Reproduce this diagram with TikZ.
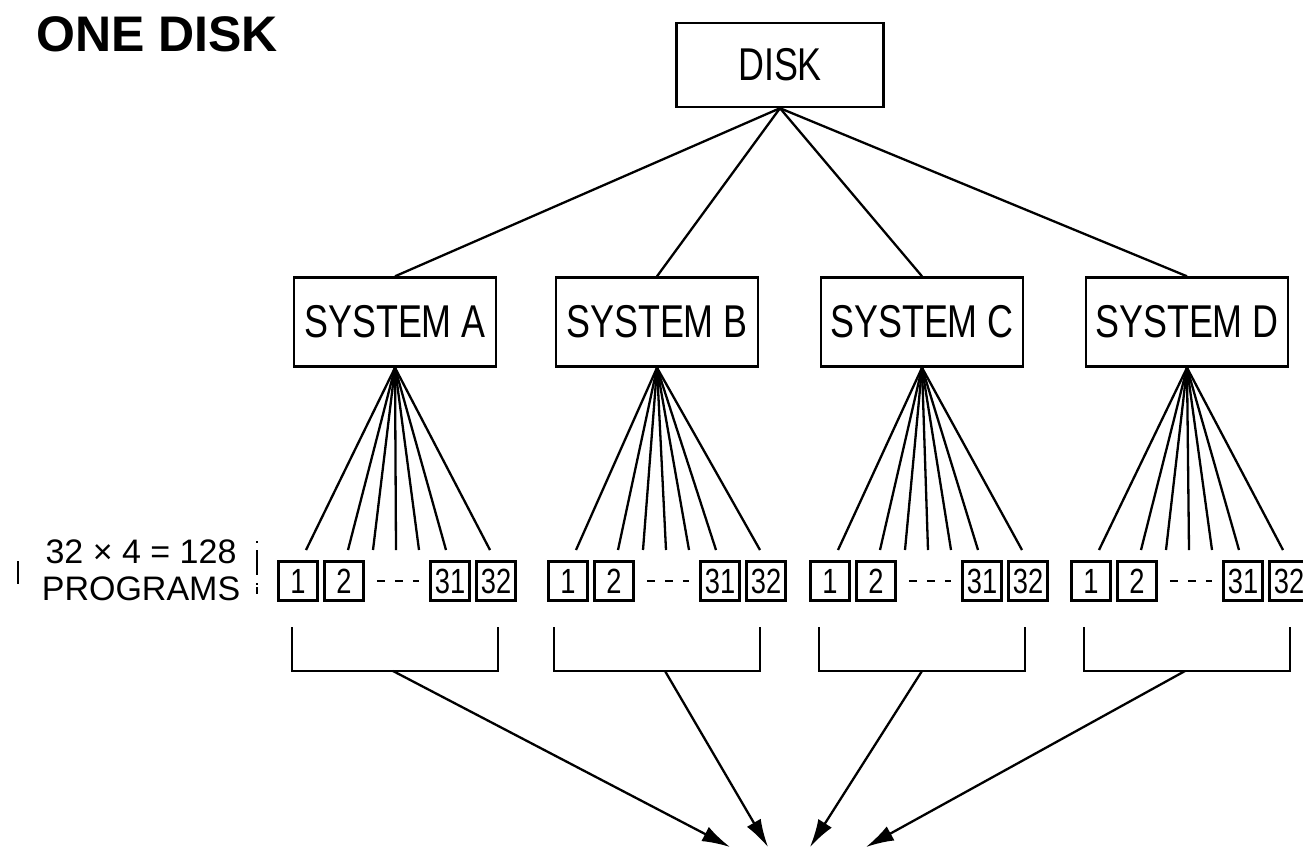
\documentclass[tikz,border=0pt]{standalone}
\usepackage{fontspec}
\setmainfont{Liberation Sans}
\newfontfamily\narrowfont[FakeStretch=0.78]{Liberation Sans}
\usetikzlibrary{arrows.meta}
\begin{document}
\begin{tikzpicture}[x=1pt,y=-1pt,
    box/.style={draw,line width=2.4pt,minimum width=202pt,minimum height=89pt,inner sep=0pt,
      font=\narrowfont\fontsize{46}{46}\selectfont},
    prog/.style={draw,line width=2.6pt,minimum size=39pt,inner sep=0pt,
      font=\narrowfont\fontsize{35}{35}\selectfont},
    link/.style={line width=2.3pt},
    feed/.style={line width=2.3pt,-{Latex[length=28pt,width=16pt]}}]
    \useasboundingbox (0,0) rectangle (1303,849);
    \node[anchor=north west,inner sep=0pt,font=\bfseries\fontsize{50}{50}\selectfont] (title) at (36,16) {ONE DISK};
    \node[box,minimum width=207pt,minimum height=84pt] (disk) at (780,65) {DISK};
    % left label with its broken frame
    \node[align=center,inner sep=0pt,font=\fontsize{34}{37}\selectfont] (lbl) at (141,570) {32 × 4 = 128\\PROGRAMS};
    \draw[line width=2pt] (18,561) -- (18,584);
    \draw[line width=2pt,dash pattern=on 2pt off 7pt on 25pt off 8pt on 2pt] (257,541) -- (257,598);
    % one column for every system
    \foreach \s/\x/\r/\ax/\tx in {A/395/396/393/730,B/657/666/665/768,C/922/928/922/810,D/1187/1189/1185/866} {
      \node[box] (sys\s) at (\x,322) {SYSTEM \s};
      \draw[link] (disk.south) -- (sys\s.north);
      \node[prog] (p\s1) at (\r-98,581) {1};
      \node[prog] (p\s2) at (\r-52,581) {2};
      \node[prog] (p\s31) at (\r+54,581) {31};
      \node[prog] (p\s32) at (\r+100,581) {32};
      \draw[line width=2.3pt,dash pattern=on 8pt off 10pt] ([xshift=12pt]p\s2.east) -- ([xshift=-10pt]p\s31.west);
      \foreach \d [count=\i] in {-90,-48,-23,0,23,50,94} {
        \coordinate (t\s\i) at (\r+\d,550);
        \draw[link] (sys\s.south) -- (t\s\i);
      }
      \draw[link] (\x-103,627) |- (\x+103,671) -- (\x+103,627);
      \coordinate (bk\s) at (\ax,671);
      \coordinate (tip\s) at (\tx,847);
      \draw[feed] (bk\s) -- (tip\s);
    }
\end{tikzpicture}
\end{document}
